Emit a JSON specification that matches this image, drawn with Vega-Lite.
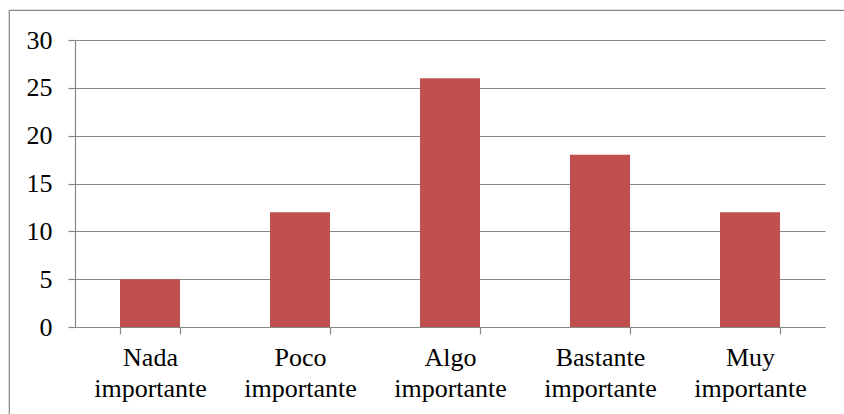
{
  "$schema": "https://vega.github.io/schema/vega-lite/v6.json",
  "width": 840,
  "height": 410,
  "autosize": {"type": "none"},
  "padding": {"left": 9, "top": 10, "right": 0, "bottom": 0},
  "background": "white",
  "config": {
    "font": "Liberation Serif",
    "view": {"stroke": "#868686", "strokeWidth": 1.2},
    "axis": {
      "labelFont": "Liberation Serif",
      "labelFontSize": 26,
      "labelColor": "black",
      "domainColor": "#868686",
      "tickColor": "#868686",
      "gridColor": "#868686",
      "domainWidth": 1.2,
      "tickWidth": 1.2,
      "gridWidth": 1.2,
      "gridOpacity": 1
    }
  },
  "data": {
    "values": [
      {"categoria": "Nada importante", "valor": 5},
      {"categoria": "Poco importante", "valor": 12},
      {"categoria": "Algo importante", "valor": 26},
      {"categoria": "Bastante importante", "valor": 18},
      {"categoria": "Muy importante", "valor": 12}
    ]
  },
  "mark": {"type": "bar", "color": "#C0504D"},
  "encoding": {
    "x": {
      "field": "categoria",
      "type": "nominal",
      "sort": null,
      "scale": {"range": [66, 816], "paddingInner": 0.6, "paddingOuter": 0.3},
      "axis": {
        "title": null,
        "labelAngle": 0,
        "offset": -93,
        "tickBand": "extent",
        "tickSize": 7,
        "labelPadding": 10,
        "labelFont": "Liberation Serif",
        "labelFontSize": 26,
        "labelColor": "black",
        "labelLineHeight": 31,
        "labelOverlap": false,
        "labelLimit": 300,
        "grid": false,
        "labelExpr": "split(datum.label, ' ')"
      }
    },
    "y": {
      "field": "valor",
      "type": "quantitative",
      "scale": {"domain": [0, 30], "range": [317, 30], "nice": false},
      "axis": {
        "title": null,
        "values": [0, 5, 10, 15, 20, 25, 30],
        "offset": -66,
        "grid": true,
        "tickSize": 7,
        "labelPadding": 16,
        "labelFont": "Liberation Serif",
        "labelFontSize": 26,
        "labelColor": "black"
      }
    }
  }
}
